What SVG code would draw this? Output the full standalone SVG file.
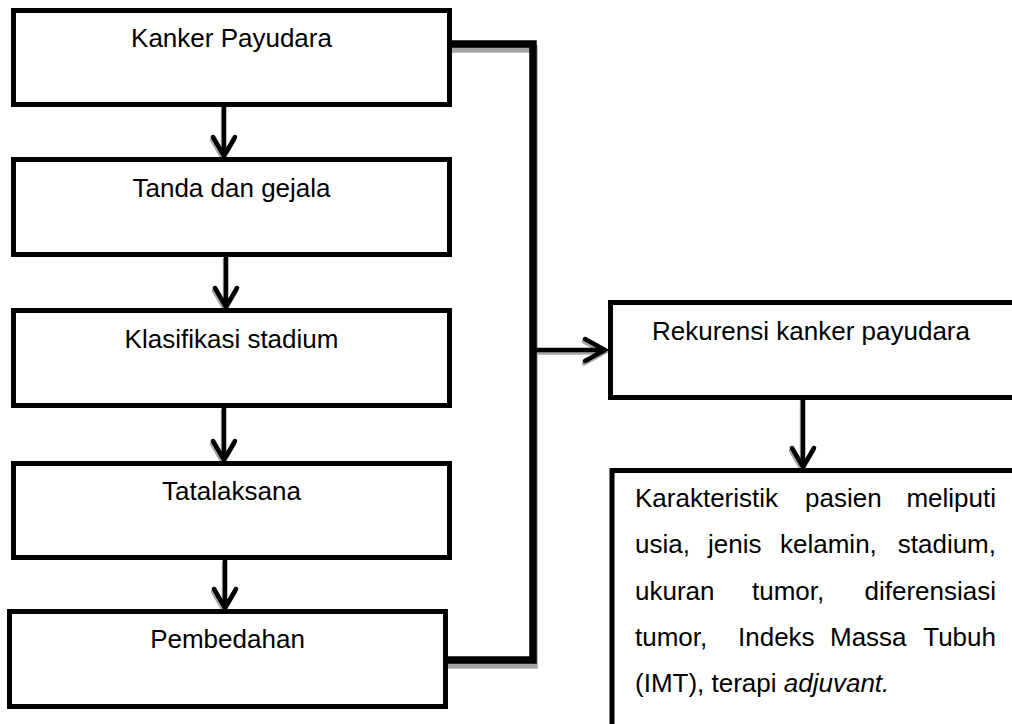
<svg xmlns="http://www.w3.org/2000/svg" width="1012" height="724" viewBox="0 0 1012 724">
  <style>
    .box { fill: #ffffff; stroke: #000000; stroke-width: 5; }
    .lbl { font-family: "Liberation Sans", Arial, sans-serif; font-size: 26px; fill: #000000; }
    .mid { text-anchor: middle; }
    .end { text-anchor: end; }
    .it { font-style: italic; }
    .bracket { fill: none; stroke: #000000; stroke-width: 7.5; stroke-linejoin: miter; }
    .bracket-sh { fill: none; stroke: #a6a6a6; stroke-width: 7.5; stroke-linejoin: miter; }
    .arrow { fill: none; stroke: #000000; stroke-width: 4.5; stroke-linejoin: miter; stroke-linecap: round; }
    .arrow-sh { fill: none; stroke: #a6a6a6; stroke-width: 4.5; stroke-linejoin: miter; stroke-linecap: round; }
  </style>
  <rect x="0" y="0" width="1012" height="724" fill="#ffffff"/>

  <g id="connectors">
    <g transform="translate(1,5)">
      <path class="bracket-sh" d="M449 44 H533 V660 H446"/>
    </g>
    <g transform="translate(-1,2.5)">
      <path class="arrow-sh" d="M224 107 V154 M213 137 L224 156 L235 137"/>
      <path class="arrow-sh" d="M226 257 V305 M215 288 L226 307 L237 288"/>
      <path class="arrow-sh" d="M224 408 V458 M213 441 L224 460 L235 441"/>
      <path class="arrow-sh" d="M225 560 V606 M214 589 L225 608 L236 589"/>
      <path class="arrow-sh" d="M536 350 H603 M585 339 L605 350 L585 361"/>
      <path class="arrow-sh" d="M803 399 V465 M792 448 L803 467 L814 448"/>
    </g>
    <path class="bracket" d="M449 44 H533 V660 H446"/>
    <path class="arrow" d="M224 107 V154 M213 137 L224 156 L235 137"/>
    <path class="arrow" d="M226 257 V305 M215 288 L226 307 L237 288"/>
    <path class="arrow" d="M224 408 V458 M213 441 L224 460 L235 441"/>
    <path class="arrow" d="M225 560 V606 M214 589 L225 608 L236 589"/>
    <path class="arrow" d="M536 350 H603 M585 339 L605 350 L585 361"/>
    <path class="arrow" d="M803 399 V465 M792 448 L803 467 L814 448"/>
  </g>

  <g id="node-kanker">
    <rect class="box" x="13.5" y="10.5" width="436" height="94"/>
    <text class="lbl mid" x="231.5" y="47">Kanker Payudara</text>
  </g>
  <g id="node-tanda">
    <rect class="box" x="13.5" y="159.5" width="436" height="95"/>
    <text class="lbl mid" x="231.5" y="197">Tanda dan gejala</text>
  </g>
  <g id="node-klasifikasi">
    <rect class="box" x="13.5" y="310.5" width="436" height="95"/>
    <text class="lbl mid" x="231.5" y="348">Klasifikasi stadium</text>
  </g>
  <g id="node-tatalaksana">
    <rect class="box" x="13.5" y="463.5" width="436" height="94"/>
    <text class="lbl mid" x="231.5" y="500">Tatalaksana</text>
  </g>
  <g id="node-pembedahan">
    <rect class="box" x="9.5" y="611.5" width="436" height="95"/>
    <text class="lbl mid" x="227.5" y="648">Pembedahan</text>
  </g>
  <g id="node-rekurensi">
    <rect class="box" x="610.5" y="302.5" width="420" height="95"/>
    <text class="lbl" x="652" y="340">Rekurensi kanker payudara</text>
  </g>
  <g id="node-karakteristik">
    <rect class="box" x="612" y="470.5" width="420" height="280"/>
    <text class="lbl" y="507"><tspan x="635">Karakteristik</tspan><tspan x="805">pasien</tspan><tspan x="996" class="end">meliputi</tspan></text>
    <text class="lbl" y="553"><tspan x="635">usia,</tspan><tspan x="708">jenis</tspan><tspan x="780">kelamin,</tspan><tspan x="996" class="end">stadium,</tspan></text>
    <text class="lbl" y="600"><tspan x="635">ukuran</tspan><tspan x="752">tumor,</tspan><tspan x="996" class="end">diferensiasi</tspan></text>
    <text class="lbl" y="646"><tspan x="635">tumor,</tspan><tspan x="738">Indeks</tspan><tspan x="830">Massa</tspan><tspan x="996" class="end">Tubuh</tspan></text>
    <text class="lbl" x="635" y="692">(IMT), terapi <tspan class="it">adjuvant.</tspan></text>
  </g>
</svg>
